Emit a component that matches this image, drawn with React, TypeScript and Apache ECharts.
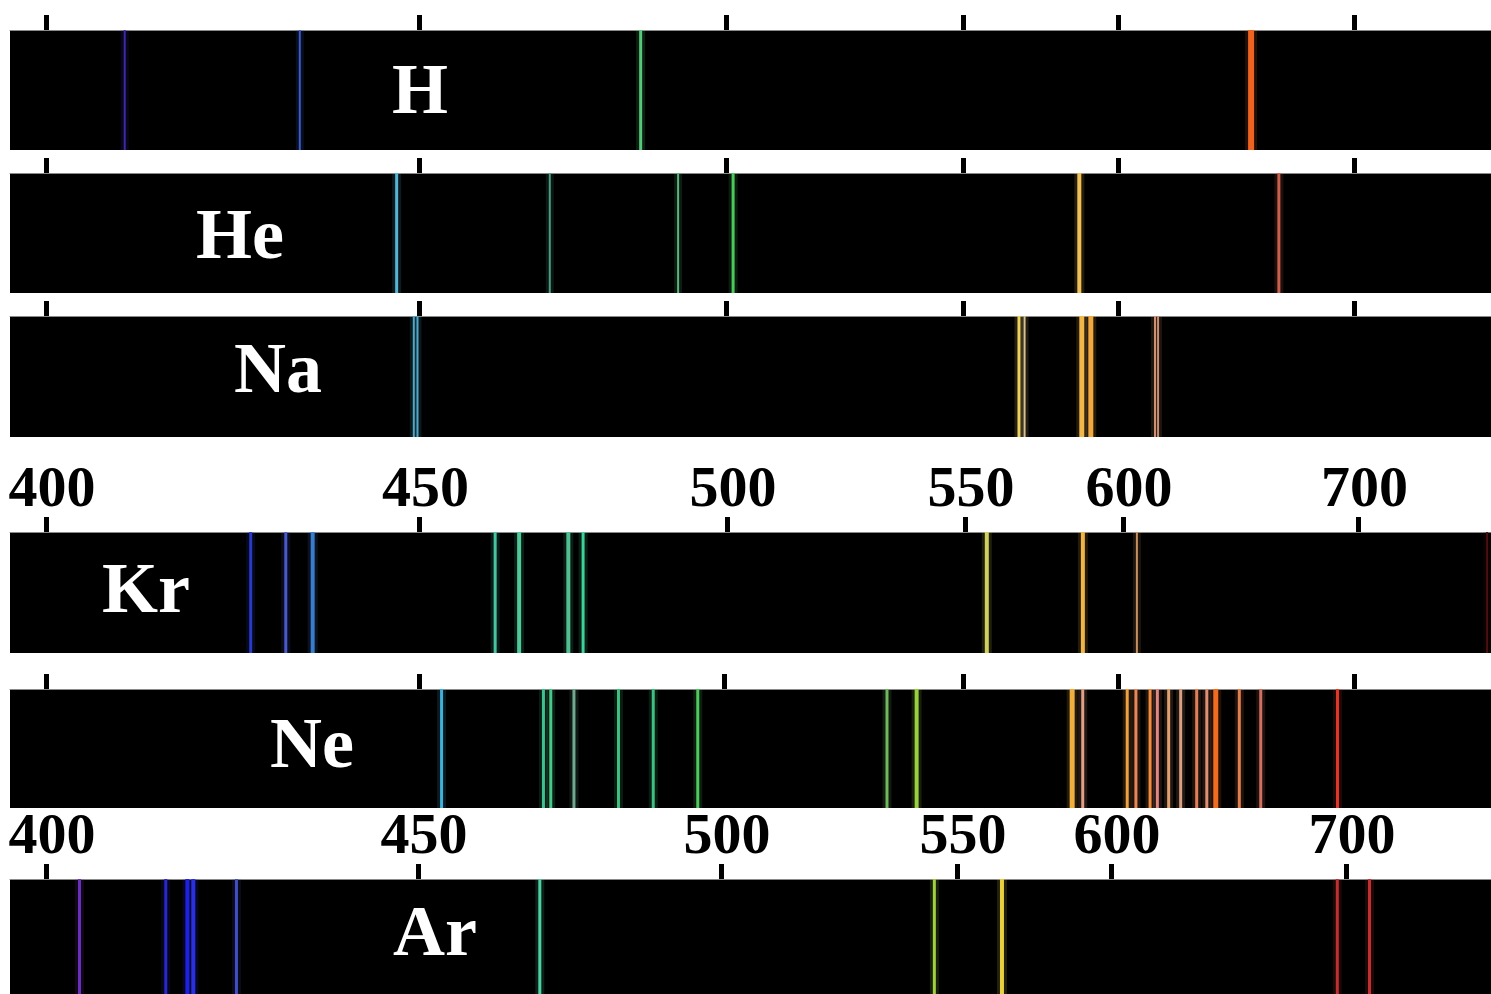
import React, { useEffect, useRef } from "react";
import * as echarts from "echarts";

// ---------- scale ----------
// Printed scale values (nm) above the strips.
const TICK_NM = [400, 450, 500, 550, 600, 700];
// The spectroscope scale is non-linear: where each printed mark sits on a strip's
// axis (axis units run 0..AXIS_MAX along the strip).
const AXIS_MAX = 1481;
const MARKS_UPPER = [36.5, 409, 716, 953, 1108.5, 1344];
const MARKS_NE = [36, 409, 714, 953, 1108.5, 1344];
const MARKS_KR = [36, 409.5, 717, 955, 1113, 1348.5];
const MARKS_AR = [36, 408, 711, 947, 1101, 1336];

// ---------- data: emission lines (nm) ----------
const ELEMENTS = ["H", "He", "Na", "Kr", "Ne", "Ar"];
const H_NM = [410.5, 434.0, 486.1, 656.3];
const HE_NM = [447.0, 471.3, 492.2, 501.5, 587.4, 668.1];
const NA_NM = [449.3, 449.8, 568.0, 569.8, 588.2, 591.1, 615.5, 616.8];
const KR_NM = [427.4, 432.1, 435.7, 462.3, 466.2, 474.2, 476.6, 556.9, 587.3, 605.9, 754.6];
const NE_NM = [
  453.7, 470.4, 471.6, 475.4, 482.7, 488.4, 495.7, 534.1, 540.3, 585.1, 588.5, 603.7,
  607.4, 613.4, 616.5, 621.3, 626.4, 633.2, 637.5, 641.3, 651.3, 660.4, 693.0,
];
const AR_NM = [404.5, 416.1, 419.0, 419.8, 425.6, 470.1, 545.2, 564.6, 696.3, 710.0];

// ---------- styles ----------
const H_COLORS = ["#3a2aa8", "#3a5ccc", "#56c87a", "#ec6420"];
const H_WIDTHS = [2, 2, 3, 6];
const HE_COLORS = ["#56b4d4", "#4e9c80", "#5cb47c", "#4cc85c", "#f0c058", "#c8604e"];
const HE_WIDTHS = [3, 2, 2, 3, 4, 3];
const NA_COLORS = ["#4ea8c8", "#4ea8c8", "#f0d060", "#d8c090", "#f0b848", "#f0a840", "#d09070", "#c88c70"];
const NA_WIDTHS = [2, 2, 3, 2, 5, 5, 2, 2];
const KR_COLORS = ["#2a3ac4", "#4a5ac8", "#3a7ccc", "#48c4a0", "#50c898", "#50c090", "#40d098", "#d0d060", "#f0b448", "#c89060", "#4a1010"];
const KR_WIDTHS = [3, 3, 4, 3, 4, 4, 3, 4, 4, 2, 2];
const NE_COLORS = [
  "#40b0d8", "#40c090", "#48c888", "#70a890", "#40c080", "#40c080", "#50c860", "#70b860",
  "#98d040", "#f0b040", "#e0a088", "#f0a040", "#e88858", "#f08c40", "#e08880", "#e0a070",
  "#d8a080", "#e08058", "#e09070", "#f06c20", "#e08050", "#d07060", "#e03828",
];
const NE_WIDTHS = [3, 3, 3, 3, 3, 3, 3, 3, 4, 5, 3, 3, 3, 3, 3, 3, 3, 3, 3, 5, 3, 3, 3];
const AR_COLORS = ["#6a30b8", "#2a28c8", "#2020e0", "#2830e0", "#4050c0", "#50d0a0", "#a0d040", "#e8d040", "#c03030", "#c03030"];
const AR_WIDTHS = [3, 3, 4, 4, 3, 3, 3, 4, 3, 3];

const STRIPS = [
  { nm: H_NM, colors: H_COLORS, widths: H_WIDTHS, marks: MARKS_UPPER, top: 30, height: 120, labels: false, tx: 420, ty: 88.5 },
  { nm: HE_NM, colors: HE_COLORS, widths: HE_WIDTHS, marks: MARKS_UPPER, top: 173, height: 120, labels: false, tx: 240, ty: 233.5 },
  { nm: NA_NM, colors: NA_COLORS, widths: NA_WIDTHS, marks: MARKS_UPPER, top: 316, height: 121, labels: false, tx: 278, ty: 367.5 },
  { nm: KR_NM, colors: KR_COLORS, widths: KR_WIDTHS, marks: MARKS_KR, top: 532, height: 121, labels: true, tx: 146, ty: 587.5 },
  { nm: NE_NM, colors: NE_COLORS, widths: NE_WIDTHS, marks: MARKS_NE, top: 689, height: 119, labels: false, tx: 312, ty: 743 },
  { nm: AR_NM, colors: AR_COLORS, widths: AR_WIDTHS, marks: MARKS_AR, top: 879, height: 115, labels: true, tx: 435, ty: 931 },
];

// piecewise-linear scale between the printed marks
function toAxis(nm: number, marks: number[]): number {
  let i = 0;
  while (i < TICK_NM.length - 2 && nm > TICK_NM[i + 1]) i++;
  const t = (nm - TICK_NM[i]) / (TICK_NM[i + 1] - TICK_NM[i]);
  return marks[i] + t * (marks[i + 1] - marks[i]);
}

export default function App() {
  const ref = useRef<HTMLDivElement>(null);

  useEffect(() => {
    const chart = echarts.init(ref.current!, null, { renderer: "svg" });
    const grid: any[] = [];
    const xAxis: any[] = [];
    const yAxis: any[] = [];
    const series: any[] = [];
    const graphic: any[] = [];

    STRIPS.forEach((s, i) => {
      grid.push({
        left: 10,
        right: 0,
        top: s.top,
        height: s.height,
        show: true,
        backgroundColor: "#000",
        borderWidth: 0,
      });
      xAxis.push({
        gridIndex: i,
        type: "value",
        min: 0,
        max: AXIS_MAX,
        position: "top",
        axisLine: { show: true, onZero: false, lineStyle: { color: "#8a8a8a", width: 1 } },
        splitLine: { show: false },
        axisTick: {
          show: true,
          customValues: s.marks,
          length: 15,
          inside: false,
          lineStyle: { color: "#000", width: 5 },
        },
        axisLabel: {
          show: s.labels,
          customValues: s.marks,
          margin: 17,
          color: "#000",
          fontFamily: "Liberation Serif",
          fontWeight: "bold",
          fontSize: 58,
          padding: [0, 0, 0, 12],
          formatter: (v: number) => {
            let best = 0;
            s.marks.forEach((m, k) => {
              if (Math.abs(m - v) < Math.abs(s.marks[best] - v)) best = k;
            });
            return String(TICK_NM[best]);
          },
        },
      });
      yAxis.push({ gridIndex: i, type: "value", min: 0, max: 1, show: false });
      series.push({
        type: "custom",
        xAxisIndex: i,
        yAxisIndex: i,
        silent: true,
        clip: true,
        data: s.nm.map((nm, k) => ({
          value: [toAxis(nm, s.marks), s.widths[k]],
          itemStyle: { color: s.colors[k] },
        })),
        renderItem: (params: any, api: any) => {
          const x = api.value(0);
          const w = api.value(1);
          const t = api.coord([x, 1]);
          const b = api.coord([x, 0]);
          const color = api.visual("color");
          return {
            type: "group",
            children: [
              {
                type: "rect",
                shape: { x: t[0] - w / 2 - 3, y: t[1], width: w + 6, height: b[1] - t[1] },
                style: { fill: color, opacity: 0.15 },
              },
              {
                type: "rect",
                shape: { x: t[0] - w / 2, y: t[1], width: w, height: b[1] - t[1] },
                style: { fill: color },
              },
            ],
          };
        },
      });
      graphic.push({
        type: "text",
        x: s.tx,
        y: s.ty,
        z: 100,
        silent: true,
        style: {
          text: ELEMENTS[i],
          fill: "#fff",
          fontFamily: "Liberation Serif",
          fontWeight: "bold",
          fontSize: 72,
          align: "center",
          verticalAlign: "middle",
          textAlign: "center",
          textVerticalAlign: "middle",
        },
      });
    });

    chart.setOption({
      animation: false,
      backgroundColor: "#fff",
      grid,
      xAxis,
      yAxis,
      series,
      graphic,
    });
    return () => chart.dispose();
  }, []);

  return (
    <div
      ref={ref}
      style={{ position: "fixed", left: 0, top: 0, width: 1491, height: 994, background: "#fff" }}
    />
  );
}
